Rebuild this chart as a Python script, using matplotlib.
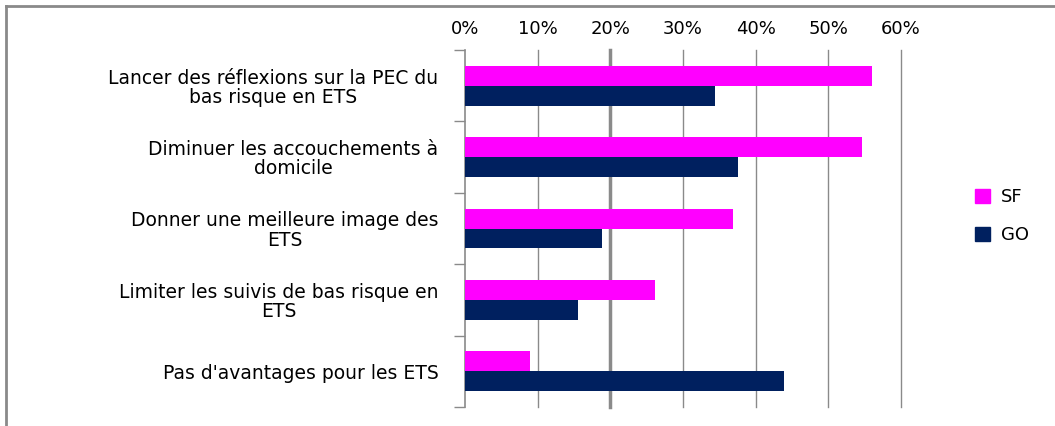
import numpy as np
import matplotlib
matplotlib.use("Agg")
import matplotlib.pyplot as plt
import matplotlib.ticker as ticker
import matplotlib.transforms as mtransforms
from matplotlib.lines import Line2D
from matplotlib.patches import Patch

# ── Data ────────────────────────────────────────────────────────────────────
categories = [
    "Lancer des réflexions sur la PEC du\nbas risque en ETS",
    "Diminuer les accouchements à\ndomicile",
    "Donner une meilleure image des\nETS",
    "Limiter les suivis de bas risque en\nETS",
    "Pas d'avantages pour les ETS",
]
sf_values = [0.560, 0.546, 0.369, 0.261, 0.089]
go_values = [0.344, 0.376, 0.188, 0.155, 0.439]
x_ticks = [0.0, 0.1, 0.2, 0.3, 0.4, 0.5, 0.6]

SF_COLOR = "#FF00FF"
GO_COLOR = "#00205F"
GRID_COLOR = "#8a8a8a"

plt.rcParams["font.family"] = ["DejaVu Sans"]

fig = plt.figure(figsize=(10.55, 4.26), dpi=100)
ax = fig.add_axes([465 / 1055, 1 - 407 / 426, 436 / 1055, 357 / 426])

y = np.arange(len(categories))
bar_h = 0.28
ax.barh(y - bar_h / 2, sf_values, height=bar_h, color=SF_COLOR, label="SF", zorder=3)
ax.barh(y + bar_h / 2, go_values, height=bar_h, color=GO_COLOR, label="GO", zorder=3)

ax.set_xlim(0, 0.6)
ax.set_ylim(len(categories) - 0.5, -0.5)

# ── X axis on top ───────────────────────────────────────────────────────────
ax.xaxis.tick_top()
ax.set_xticks(x_ticks)
ax.xaxis.set_major_formatter(ticker.PercentFormatter(1.0, decimals=0))
ax.tick_params(axis="x", length=0, pad=8.5, labelsize=13, colors="black")
for xv in x_ticks[1:]:
    lw = 2.5 if abs(xv - 0.2) < 1e-9 else 1.0
    ax.axvline(xv, color=GRID_COLOR, linewidth=lw, zorder=1, clip_on=False)

# ── Y axis ──────────────────────────────────────────────────────────────────
ax.set_yticks(y)
ax.set_yticklabels(categories)
shift = mtransforms.ScaledTranslation(0, -4 / 72, fig.dpi_scale_trans)
for lab in ax.get_yticklabels():
    lab.set_multialignment("center")
    lab.set_linespacing(1.0)
    lab.set_transform(lab.get_transform() + shift)
ax.tick_params(axis="y", which="major", length=0, pad=19, labelsize=13.5)
ax.set_yticks(np.arange(len(categories) + 1) - 0.5, minor=True)
ax.tick_params(axis="y", which="minor", length=8, width=1, color=GRID_COLOR, direction="out")

for s in ["top", "right", "bottom"]:
    ax.spines[s].set_visible(False)
ax.spines["left"].set_color(GRID_COLOR)
ax.spines["left"].set_linewidth(1.2)

# ── Legend ──────────────────────────────────────────────────────────────────
handles = [Patch(color=SF_COLOR, label="SF"), Patch(color=GO_COLOR, label="GO")]
fig.legend(handles=handles, loc="center left", bbox_to_anchor=(959 / 1055, 1 - 216 / 426),
           frameon=False, fontsize=13, handlelength=0.8, handleheight=0.8,
           handletextpad=0.6, labelspacing=1.1)

# ── Outer frame (top and left only) ─────────────────────────────────────────
fig.add_artist(Line2D([6 / 1055, 1], [1 - 5.5 / 426, 1 - 5.5 / 426],
                      color=GRID_COLOR, linewidth=2, transform=fig.transFigure))
fig.add_artist(Line2D([6 / 1055, 6 / 1055], [0, 1 - 5.5 / 426],
                      color=GRID_COLOR, linewidth=2, transform=fig.transFigure))

fig.savefig("out.png", dpi=100)
